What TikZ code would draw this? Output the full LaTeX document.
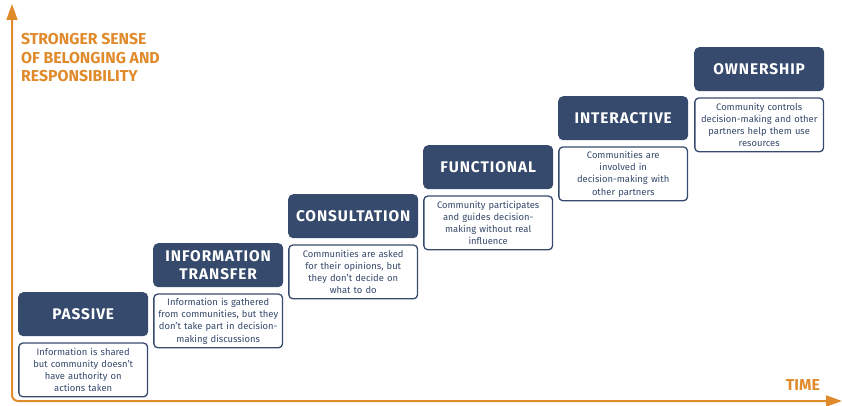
\documentclass[tikz,border=0pt]{standalone}
\usepackage{fontspec}
\setmainfont{Fira Sans}
\usetikzlibrary{positioning,arrows.meta}
\definecolor{navy}{HTML}{364A6D}
\definecolor{amber}{HTML}{E08A2C}

\begin{document}
\begin{tikzpicture}[x=1pt, y=-1pt,
    stage/.style={fill=navy, rounded corners=5pt, minimum width=130pt, minimum height=44pt,
        text width=128pt, align=center, inner sep=0pt, anchor=north west, text=white,
        font=\bfseries\fontsize{15.4}{18.5}\selectfont\addfontfeature{LetterSpace=6}},
    note/.style={draw=navy, line width=1.3pt, fill=white, rounded corners=4pt,
        minimum width=128.7pt, minimum height=53.7pt, text width=126pt, align=center,
        inner sep=0pt, text=navy, font=\fontsize{9.4}{12.3}\selectfont},
    axis/.style={draw=amber, line width=2pt, rounded corners=6pt,
        {Triangle[length=16pt,width=11pt]}-{Triangle[length=16pt,width=11pt]}},
    axislabel/.style={text=amber, align=left, inner sep=0pt,
        font=\bfseries\fontsize{15.8}{18.7}\selectfont}]

        \useasboundingbox (0,0) rectangle (842,406);

        % Axes with rounded corner at the origin
        \coordinate (ytip) at (12,4);
        \coordinate (xtip) at (842,401);
        \draw[axis] (ytip) |- (xtip);

        % Axis titles
        \node[axislabel, anchor=north west] (ytitle) at (21,33) {STRONGER SENSE\\OF BELONGING AND\\RESPONSIBILITY};
        \node[axislabel, anchor=south east] (xtitle) at (820,391) {TIME};

        % Steps of the ladder, lowest on the left
        \node[stage] (passive) at (18,292) {PASSIVE};
        \node[note, below=6pt of passive] (passivenote) {Information is shared\\but community doesn't\\have authority on\\actions taken};

        \node[stage] (transfer) at (153,243) {INFORMATION\\TRANSFER};
        \node[note, below=6pt of transfer] (transfernote) {Information is gathered\\from communities, but they\\don't take part in decision-\\making discussions};

        \node[stage] (consult) at (288,194) {CONSULTATION};
        \node[note, below=6pt of consult] (consultnote) {Communities are asked\\for their opinions, but\\they don't decide on\\what to do};

        \node[stage] (functional) at (423,145) {FUNCTIONAL};
        \node[note, below=6pt of functional] (functionalnote) {Community participates\\and guides decision-\\making without real\\influence};

        \node[stage] (interactive) at (558,96) {INTERACTIVE};
        \node[note, below=6pt of interactive] (interactivenote) {Communities are\\involved in\\decision-making with\\other partners};

        \node[stage] (ownership) at (694,47) {OWNERSHIP};
        \node[note, below=6pt of ownership] (ownershipnote) {Community controls\\decision-making and other\\partners help them use\\resources};
\end{tikzpicture}
\end{document}
